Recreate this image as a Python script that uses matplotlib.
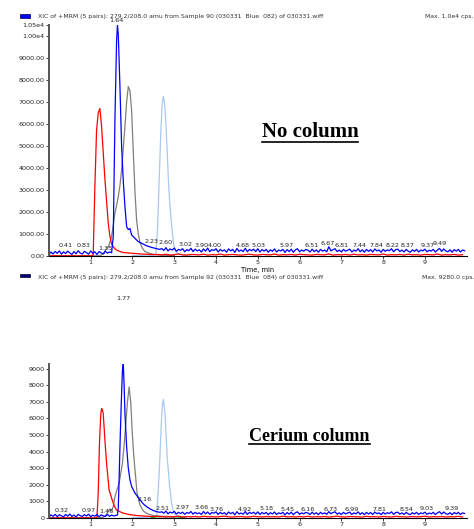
import numpy as np
import matplotlib
matplotlib.use('Agg')
import matplotlib.pyplot as plt
from matplotlib.lines import Line2D
from matplotlib.patches import Rectangle

# Cromatogrames XIC (+MRM): sense columna (dalt) i amb columna de ceri (baix)
STEP = 0.05

# ---------- panell de dalt: "No column" ----------
top_blue_pre = [60, 180, 90, 210, 120, 230, 80, 190, 110, 220, 140, 70, 200, 100, 240, 130,
                90, 210, 150, 80, 230, 120, 190, 70, 200, 140, 100, 220, 130, 180, 150]
top_blue_peak_t = [1.54, 1.58, 1.62, 1.64, 1.66, 1.70, 1.74, 1.78, 1.82, 1.86, 1.90, 1.94, 1.98,
                   2.02, 2.08, 2.14, 2.20, 2.28, 2.36, 2.44, 2.52, 2.60, 2.66]
top_blue_peak_i = [880, 6200, 9800, 10500, 10100, 7700, 5000, 3400, 2240, 1330, 1200, 1250, 950,
                   880, 760, 650, 600, 520, 450, 400, 360, 320, 300]
top_blue_post = [340, 250, 380, 230, 320, 270, 360, 210, 300, 260,
                 330, 190, 290, 240, 350, 200, 310, 230, 280, 180,
                 320, 220, 360, 190, 290, 250, 330, 180, 300, 220,
                 280, 170, 320, 230, 300, 160, 340, 210, 270, 200,
                 350, 190, 300, 240, 310, 200, 330, 180, 290, 220,
                 300, 170, 280, 210, 320, 180, 270, 230, 300, 160,
                 290, 200, 310, 170, 280, 330, 190, 270, 220, 300,
                 260, 180, 310, 200, 280, 170, 300, 220, 270, 190,
                 420, 230, 290, 330, 200, 270, 180, 300, 220, 260,
                 310, 180, 270, 220, 330, 190, 280, 170, 300, 210,
                 290, 180, 320, 230, 270, 170, 300, 210, 280, 240,
                 330, 190, 290, 310, 200, 270, 180, 300, 220, 170,
                 280, 210, 300, 180, 270, 230, 310, 190, 260, 220,
                 300, 180, 270, 340, 210, 320, 230, 190, 280, 170,
                 290, 220, 300, 180, 270, 240]

top_red_pre = [0, 10, 0, 20, 0, 10, 0, 0, 15, 0, 10, 0, 20, 0, 0, 10, 0, 15, 0, 10, 0]
top_red_peak_t = [1.06, 1.10, 1.14, 1.18, 1.22, 1.26, 1.30, 1.34, 1.38, 1.42, 1.46, 1.50, 1.54,
                  1.58, 1.62, 1.68, 1.74, 1.80, 1.90, 2.00, 2.10, 2.20, 2.35, 2.50]
top_red_peak_i = [50, 3150, 5700, 6500, 6700, 5900, 4700, 3500, 2500, 1500, 900, 550, 420,
                  330, 270, 220, 180, 150, 140, 120, 110, 90, 80, 60]
top_red_post = [70, 50, 80, 40, 60, 90, 50, 40, 70, 60,
                50, 80, 40, 60, 50, 90, 40, 60, 70, 50,
                40, 60, 80, 50, 40, 70, 60, 50, 90, 40,
                60, 50, 70, 40, 80, 60, 50, 40, 70, 60,
                50, 90, 40, 60, 50, 70, 40, 80, 50, 60,
                40, 70, 60, 50, 90, 40, 60, 50, 70, 40,
                80, 50, 60, 40, 70, 60, 50, 90, 40, 60,
                50, 70, 40, 60]

top_gray_t = [0.0, 0.3, 0.6, 0.9, 1.2, 1.32, 1.36, 1.40, 1.44, 1.50, 1.54, 1.58, 1.62, 1.66, 1.70,
              1.74, 1.78, 1.82, 1.86, 1.90, 1.94, 1.98, 2.02, 2.06, 2.10, 2.14, 2.18, 2.24, 2.30,
              2.40, 2.50, 2.60, 2.80, 3.00]
top_gray_i = [0, 10, 0, 10, 10, 100, 300, 350, 500, 880, 1400, 1950, 2300, 2700, 3200,
              3900, 4900, 5900, 7000, 7700, 7500, 6600, 4700, 2900, 1600, 1000, 600, 350, 200,
              120, 80, 50, 30, 20]

top_lblue_t = [2.0, 2.1, 2.2, 2.3, 2.4, 2.5, 2.56, 2.60, 2.64, 2.68, 2.71, 2.74, 2.77, 2.80, 2.83,
               2.86, 2.90, 2.94, 2.98, 3.02, 3.08, 3.20, 3.40]
top_lblue_i = [20, 30, 20, 40, 30, 40, 100, 1200, 3500, 5700, 6900, 7250, 6900, 6000, 4800,
               3450, 2200, 1330, 600, 270, 120, 60, 40]

top_labels = ['0.41', '0.83', '1.35', '1.64', '2.23', '2.60', '3.02', '3.90', '4.00', '4.68', '5.03',
              '5.97', '6.51', '6.67', '6.81', '7.44', '7.84', '8.22', '8.37', '9.37', '9.49']
top_label_x = [0.39, 0.82, 1.34, 1.62, 2.46, 2.80, 3.26, 3.66, 3.97, 4.65, 5.01,
               5.69, 6.29, 6.68, 7.00, 7.44, 7.85, 8.23, 8.59, 9.07, 9.36]
top_label_y = [470, 470, 350, 10700, 650, 600, 530, 470, 470, 470, 470,
               470, 470, 580, 470, 470, 470, 470, 470, 470, 580]

# ---------- panell de baix: "Cerium column" ----------
bot_blue_pre = [60, 190, 100, 220, 80, 200, 130, 70, 210, 110, 240, 90, 180, 60, 220, 140,
                90, 200, 120, 230, 80, 170, 110, 210, 70, 190, 130, 90, 220, 100, 180, 120, 150]
bot_blue_peak_t = [1.64, 1.66, 1.68, 1.70, 1.73, 1.76, 1.78, 1.80, 1.82, 1.86, 1.90, 1.94, 1.98,
                   2.02, 2.06, 2.12, 2.18, 2.26, 2.34, 2.42, 2.50, 2.58, 2.66]
bot_blue_peak_i = [180, 600, 2300, 4300, 6800, 8900, 9280, 8000, 6300, 4300, 3000, 2300, 1900,
                   1700, 1500, 1300, 1090, 850, 680, 550, 450, 380, 340]
bot_blue_post = [380, 290, 420, 250, 360, 300, 400, 240, 340, 270,
                 350, 220, 330, 280, 390, 230, 340, 260, 310, 210,
                 390, 250, 360, 220, 330, 290, 370, 210, 340, 250,
                 320, 200, 360, 260, 340, 190, 380, 240, 300, 230,
                 390, 220, 340, 270, 350, 230, 370, 210, 330, 250,
                 340, 200, 320, 240, 360, 210, 310, 260, 340, 190,
                 330, 230, 350, 200, 320, 370, 220, 310, 250, 340,
                 300, 210, 350, 230, 320, 200, 340, 250, 310, 220,
                 380, 260, 330, 370, 230, 310, 210, 340, 250, 300,
                 350, 210, 310, 250, 370, 220, 320, 200, 340, 240,
                 330, 210, 360, 260, 310, 200, 340, 240, 320, 270,
                 370, 220, 330, 350, 230, 310, 210, 340, 250, 200,
                 320, 240, 340, 210, 310, 260, 350, 220, 300, 250,
                 340, 210, 310, 380, 240, 360, 260, 220, 320, 200,
                 330, 250, 340, 210, 310, 270]

bot_red_t = [0.0, 0.3, 0.6, 0.9, 1.1, 1.15, 1.18, 1.21, 1.24, 1.26, 1.28, 1.30, 1.34, 1.38, 1.44,
             1.50, 1.54, 1.58, 1.62, 1.70, 1.77, 1.90, 2.00, 2.15, 2.30, 2.50]
bot_red_i = [0, 10, 0, 10, 0, 30, 1500, 4500, 6200, 6600, 6500, 6300, 4700, 3300, 1700,
             1200, 900, 650, 480, 380, 300, 220, 180, 140, 110, 90]
bot_red_post = [100, 80, 60, 90, 70, 110, 60, 80, 70, 90,
                60, 100, 70, 80, 60, 90, 110, 70, 60, 80,
                90, 60, 70, 100, 80, 60, 90, 70, 80, 60,
                110, 70, 80, 60, 90, 70, 100, 60, 80, 70,
                90, 60, 80, 110, 70, 60, 90, 80, 70, 60,
                100, 70, 80, 60, 90, 70, 60, 100, 80, 70,
                60, 90, 70, 80, 110, 60, 80, 70, 90, 60,
                80, 70, 100, 60]

bot_gray_t = [0.0, 0.4, 0.8, 1.2, 1.30, 1.36, 1.42, 1.46, 1.50, 1.54, 1.58, 1.63, 1.68, 1.72, 1.76,
              1.80, 1.84, 1.88, 1.92, 1.96, 2.00, 2.03, 2.06, 2.11, 2.18, 2.26, 2.36, 2.50, 2.70, 3.00]
bot_gray_i = [0, 10, 0, 10, 50, 150, 400, 550, 420, 700, 1280, 1700, 2100, 2700, 3300,
              4400, 5700, 7000, 7900, 6900, 4900, 3800, 2900, 1500, 780, 420, 250, 150, 100, 60]

bot_lblue_t = [2.0, 2.1, 2.2, 2.3, 2.4, 2.5, 2.58, 2.62, 2.65, 2.69, 2.72, 2.74, 2.78, 2.83, 2.89,
               2.93, 2.97, 3.02, 3.10, 3.30]
bot_lblue_i = [30, 40, 30, 40, 50, 40, 150, 1800, 3300, 5700, 6900, 7150, 6300, 3700, 1900,
               1000, 480, 200, 100, 60]

bot_green = [20, 40, 60, 80, 70, 90, 80, 100, 90, 80, 70, 60, 80, 50, 40, 60, 30]

bot_labels = ['0.32', '0.97', '1.46', '1.77', '2.16', '2.51', '2.97', '3.66', '3.76', '4.92', '5.18',
              '5.45', '6.16', '6.73', '6.99', '7.81', '8.54', '9.03', '9.39']
bot_label_x = [0.31, 0.94, 1.38, 1.77, 2.30, 2.73, 3.21, 3.66, 4.01, 4.69, 5.21,
               5.72, 6.20, 6.73, 7.24, 7.92, 8.56, 9.04, 9.64]
bot_label_y = [480, 480, 380, 13250, 1130, 600, 620, 620, 520, 520, 600,
               520, 520, 520, 520, 520, 520, 600, 600]

top_yticks = [0, 1000, 2000, 3000, 4000, 5000, 6000, 7000, 8000, 9000, 10000, 10500]
top_ylabels = ['0.00', '1000.00', '2000.00', '3000.00', '4000.00', '5000.00', '6000.00',
               '7000.00', '8000.00', '9000.00', '1.00e4', '1.05e4']
bot_yticks = [0, 1000, 2000, 3000, 4000, 5000, 6000, 7000, 8000, 9000]
bot_ylabels = ['0', '1000', '2000', '3000', '4000', '5000', '6000', '7000', '8000', '9000']
xticks = [1, 2, 3, 4, 5, 6, 7, 8, 9]


def grid(t0, step, vals):
    return t0 + step * np.arange(len(vals))


def trace(pre, pk_t, pk_i, post, pre_t0=0.0, post_t0=2.70, post_step=STEP):
    t = np.concatenate([grid(pre_t0, STEP, pre), pk_t, grid(post_t0, post_step, post)])
    i = np.concatenate([pre, pk_i, post])
    return t, i


LW = 0.9
RED, BLUE, GRAY, LBLUE, GREEN = '#ff0000', '#0000ff', '#7f7f7f', '#a9c9ef', '#22a022'

fig = plt.figure(figsize=(4.74, 5.29), dpi=100)
ax1 = fig.add_axes([0.1032, 0.5161, 0.8814, 0.4367])
ax2 = fig.add_axes([0.1032, 0.0208, 0.8814, 0.2911])

# dalt
ax1.plot(top_lblue_t, top_lblue_i, color=LBLUE, lw=LW)
ax1.plot(top_gray_t, top_gray_i, color=GRAY, lw=LW)
t, i = trace(top_red_pre, top_red_peak_t, top_red_peak_i, top_red_post, post_t0=2.6, post_step=0.1)
ax1.plot(t, i, color=RED, lw=LW)
t, i = trace(top_blue_pre, top_blue_peak_t, top_blue_peak_i, top_blue_post)
ax1.plot(t, i, color=BLUE, lw=LW)

# baix
ax2.plot(bot_lblue_t, bot_lblue_i, color=LBLUE, lw=LW)
ax2.plot(grid(2.45, STEP, bot_green), bot_green, color=GREEN, lw=LW)
ax2.plot(bot_gray_t, bot_gray_i, color=GRAY, lw=LW)
t = np.concatenate([bot_red_t, grid(2.6, 0.1, bot_red_post)])
ax2.plot(t, np.concatenate([bot_red_i, bot_red_post]), color=RED, lw=LW)
t, i = trace(bot_blue_pre, bot_blue_peak_t, bot_blue_peak_i, bot_blue_post)
ax2.plot(t, i, color=BLUE, lw=LW)

for ax, lbls, lx, ly in [(ax1, top_labels, top_label_x, top_label_y),
                         (ax2, bot_labels, bot_label_x, bot_label_y)]:
    for s, x, y in zip(lbls, lx, ly):
        ax.text(x, y, s, fontsize=4.6, ha='center', va='center', color='#222222', clip_on=False)

ax1.set_xlim(0, 10)
ax1.set_ylim(0, 10500)
ax2.set_xlim(0, 10)
ax2.set_ylim(0, 9280)
ax1.set_yticks(top_yticks)
ax1.set_yticklabels(top_ylabels)
ax2.set_yticks(bot_yticks)
ax2.set_yticklabels(bot_ylabels)
for ax in (ax1, ax2):
    ax.set_xticks(xticks)
    ax.set_xticklabels([str(v) for v in xticks])
    ax.tick_params(labelsize=4.6, length=2, width=0.6, pad=1, colors='#222222')
    for s in ('top', 'right'):
        ax.spines[s].set_visible(False)
    ax.spines['left'].set_color('#555555')
    ax.spines['left'].set_linewidth(1.4)
    ax.spines['bottom'].set_linewidth(0.8)
    ax.patch.set_alpha(0)
ax1.set_xlabel('Time, min', fontsize=4.8, labelpad=1)

# capçaleres
hdr = dict(fontsize=4.4, color='#333333', va='baseline')
fig.add_artist(Rectangle((20 / 474, 1 - 17.5 / 529), 10 / 474, 3.5 / 529, transform=fig.transFigure,
                         facecolor=BLUE, edgecolor='#000044', lw=0.5))
fig.text(38 / 474, 1 - 18 / 529,
         'XIC of +MRM (5 pairs): 279.2/208.0 amu from Sample 90 (030331  Blue  082) of 030331.wiff', **hdr)
fig.text(425 / 474, 1 - 18 / 529, 'Max. 1.0e4 cps.', **hdr)
fig.add_artist(Rectangle((20 / 474, 1 - 277 / 529), 10 / 474, 3.5 / 529, transform=fig.transFigure,
                         facecolor='#000080', edgecolor='#000022', lw=0.5))
fig.text(38 / 474, 1 - 279 / 529,
         'XIC of +MRM (5 pairs): 279.2/208.0 amu from Sample 92 (030331  Blue  084) of 030331.wiff', **hdr)
fig.text(422 / 474, 1 - 279 / 529, 'Max. 9280.0 cps.', **hdr)

t1 = fig.text(310 / 474, 1 - 137.3 / 529, 'No column', family='Liberation Serif',
              weight='bold', fontsize=15, ha='center', va='baseline')
t2 = fig.text(309.7 / 474, 1 - 440.7 / 529, 'Cerium column', family='Liberation Serif',
              weight='bold', fontsize=13, ha='center', va='baseline')

# subratllat
fig.canvas.draw()
for tx, gap in ((t1, 4.4), (t2, 3.5)):
    bb = tx.get_window_extent()
    base = tx.get_position()[1] * fig.bbox.height
    fig.add_artist(Line2D([bb.x0, bb.x1], [base - gap, base - gap], transform=None,
                          color='black', lw=1.2))

fig.savefig('out.png', dpi=100)
